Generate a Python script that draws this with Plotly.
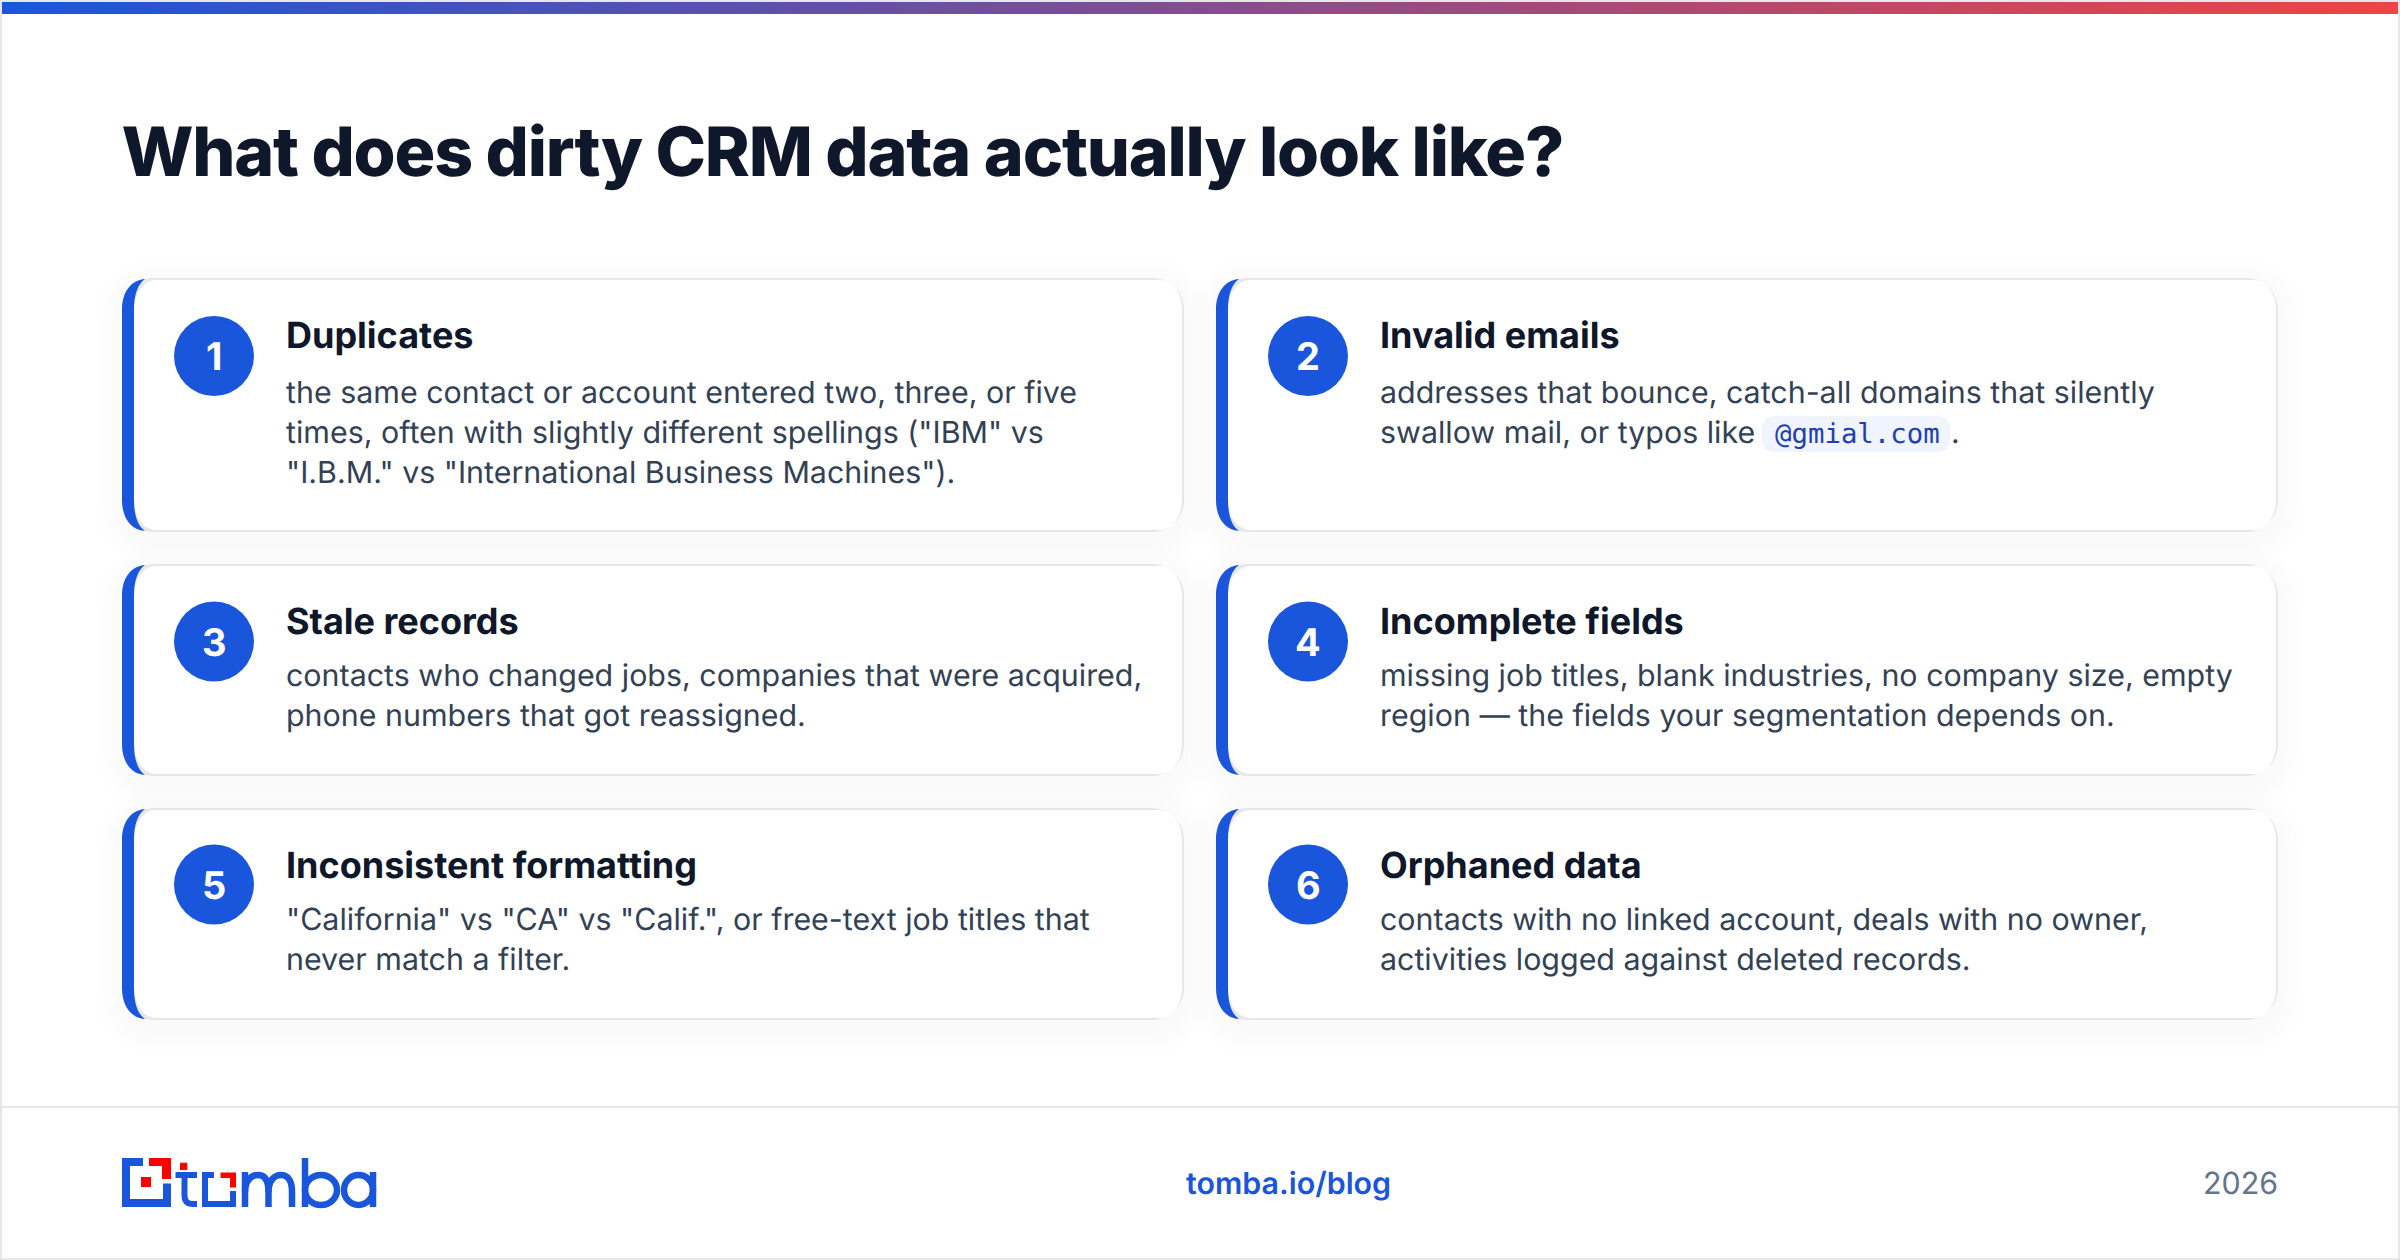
## import packages
import plotly.graph_objects as go


## data
page_title = "What does dirty CRM data actually look like?"
card_numbers = ["1", "2", "3", "4", "5", "6"]
card_titles = [
    "Duplicates",
    "Invalid emails",
    "Stale records",
    "Incomplete fields",
    "Inconsistent formatting",
    "Orphaned data",
]
card_lines = [
    [
        "the same contact or account entered two, three, or five",
        'times, often with slightly different spellings ("IBM" vs',
        '"I.B.M." vs "International Business Machines").',
    ],
    [
        "addresses that bounce, catch-all domains that silently",
        "swallow mail, or typos like",
    ],
    [
        "contacts who changed jobs, companies that were acquired,",
        "phone numbers that got reassigned.",
    ],
    [
        "missing job titles, blank industries, no company size, empty",
        "region \u2014 the fields your segmentation depends on.",
    ],
    [
        '"California" vs "CA" vs "Calif.", or free-text job titles that',
        "never match a filter.",
    ],
    [
        "contacts with no linked account, deals with no owner,",
        "activities logged against deleted records.",
    ],
]
code_text = "@gmial.com"
footer_link = "tomba.io/blog"
footer_year = "2026"


## global variables
WIDTH, HEIGHT = 2400, 1260
BLUE = "#1a56db"
RED = "#ef4444"
LOGO_RED = "#ff0000"
INK = "#0f172a"
BODY = "#334155"
BORDER = "#e5e7eb"
FONT = "Inter"

col_x = [122, 1216]
card_w = 1062
row_y = [(278, 532), (564, 776), (808, 1020)]
# badge / title / first body line offsets from the card top, per row
badge_dy = [78, 77.5, 76.5]
title_dy = [57, 56.5, 57]
body_dy = [114, 111, 110.5]


## functions
def round_rect(x0, y0, x1, y1, rx, ry=None):
    ry = rx if ry is None else ry
    kx, ky = rx * 0.448, ry * 0.448
    return (
        f"M {x0 + rx} {y0} L {x1 - rx} {y0} "
        f"C {x1 - kx} {y0} {x1} {y0 + ky} {x1} {y0 + ry} "
        f"L {x1} {y1 - ry} "
        f"C {x1} {y1 - ky} {x1 - kx} {y1} {x1 - rx} {y1} "
        f"L {x0 + rx} {y1} "
        f"C {x0 + kx} {y1} {x0} {y1 - ky} {x0} {y1 - ry} "
        f"L {x0} {y0 + ry} "
        f"C {x0} {y0 + ky} {x0 + kx} {y0} {x0 + rx} {y0} Z"
    )


def accent_path(x0, y0, y1, r=32, bar=12):
    tip = x0 + 23
    return (
        f"M {tip} {y0 + 1} C {x0 + 9} {y0 + 2} {x0} {y0 + 14} {x0} {y0 + r} "
        f"L {x0} {y1 - r} C {x0} {y1 - 14} {x0 + 9} {y1 - 2} {tip} {y1 - 1} "
        f"C {x0 + bar + 4} {y1 - 6} {x0 + bar} {y1 - 16} {x0 + bar} {y1 - r} "
        f"L {x0 + bar} {y0 + r} C {x0 + bar} {y0 + 16} {x0 + bar + 4} {y0 + 6} {tip} {y0 + 1} Z"
    )


def add_text(fig, x, y, text, size, color=BODY, weight=400, anchor="left", family=FONT):
    fig.add_annotation(
        x=x, y=y, text=text, showarrow=False, xanchor=anchor, yanchor="middle", align=anchor,
        borderpad=0, borderwidth=0,
        font=dict(family=family, size=size, color=color, weight=weight),
    )


def add_fill(fig, path, color):
    fig.add_shape(type="path", path=path, fillcolor=color, line_width=0)


def add_stroke(fig, path, width=6.5):
    fig.add_shape(type="path", path=path, line=dict(color=BLUE, width=width))


## build figure
fig = go.Figure()

# top gradient bar
fig.add_trace(go.Scatter(
    x=[2, 2398, 2398, 2, 2], y=[2, 2, 14, 14, 2],
    mode="none", fill="toself", hoverinfo="skip",
    fillgradient=dict(type="horizontal", colorscale=[[0, BLUE], [1, RED]]),
))

# page frame and footer rule
fig.add_shape(type="rect", x0=1, y0=1, x1=2399, y1=1259, line=dict(color=BORDER, width=2))
fig.add_shape(type="rect", x0=2, y0=1106, x1=2398, y1=1108, fillcolor=BORDER, line_width=0)

# title is centred on its span so the tightened tracking keeps both ends in place
add_text(fig, 842, 151, page_title, 68, INK, 800, anchor="center")

# cards
for i, title in enumerate(card_titles):
    row = i // 2
    x0 = col_x[i % 2]
    y0, y1 = row_y[row]
    x1 = x0 + card_w

    # soft shadow
    for spread in (26, 20, 14, 9, 5):
        add_fill(fig, round_rect(x0 - spread, y0 + 6 - spread, x1 + spread, y1 + 8 + spread, 32 + spread),
                 "rgba(15,23,42,0.005)")

    add_fill(fig, round_rect(x0, y0, x1, y1, 32), BORDER)
    add_fill(fig, round_rect(x0 + 12, y0 + 2, x1 - 2, y1 - 2, 22, 30), "white")
    add_fill(fig, accent_path(x0, y0, y1), BLUE)

    # number badge
    cx, cy = x0 + 92, y0 + badge_dy[row]
    fig.add_shape(type="circle", x0=cx - 40, y0=cy - 40, x1=cx + 40, y1=cy + 40, fillcolor=BLUE, line_width=0)
    add_text(fig, cx, cy, card_numbers[i], 38, "white", 700, anchor="center")

    # title and body lines
    add_text(fig, x0 + 164, y0 + title_dy[row], title, 36, INK, 700)
    for j, line in enumerate(card_lines[i]):
        add_text(fig, x0 + 164, y0 + body_dy[row] + j * 40, line, 30.4, BODY, 400)

# inline code chip in card 2
add_fill(fig, round_rect(1762, 416, 1950, 452, 12), "#eff4ff")
add_text(fig, 1775, 433, code_text, 27.36, "#1e40af", 400, family="DejaVu Sans Mono")
add_text(fig, 1951, 432, ".", 30.4, BODY, 400)

# logo: mark
add_fill(fig, "M 122 1158 L 143 1158 L 143 1166 L 130 1166 L 130 1199 L 163 1199 L 163 1183.5 "
              "L 171 1183.5 L 171 1207 L 122 1207 Z", BLUE)
add_fill(fig, "M 149 1158 L 171 1158 L 171 1179 L 162 1179 L 162 1166 L 149 1166 Z", LOGO_RED)
add_fill(fig, "M 141 1177 L 151 1177 L 151 1187 L 141 1187 Z", LOGO_RED)

# logo: t
add_fill(fig, "M 180 1162.7 L 187.3 1162.7 L 187.3 1170 L 180 1170 Z", LOGO_RED)
add_stroke(fig, "M 175.5 1175 L 197 1175", 6)
add_stroke(fig, "M 184.5 1172 L 184.5 1195 C 184.5 1201 187 1204 193 1204 L 197 1204", 6)

# logo: o
add_fill(fig, "M 202 1172 L 214 1172 L 214 1178 L 208 1178 L 208 1201 L 230 1201 L 230 1191 "
              "L 236 1191 L 236 1207 L 202 1207 Z", BLUE)
add_fill(fig, "M 220.5 1172.5 L 236 1172.5 L 236 1187.5 L 230 1187.5 L 230 1178 L 220.5 1178 Z", LOGO_RED)

# logo: m
add_stroke(fig, "M 245 1207 L 245 1172")
add_stroke(fig, "M 245 1192 C 245 1181 251 1175 258 1175 C 265 1175 268.5 1181 268.5 1192 L 268.5 1207")
add_stroke(fig, "M 268.5 1192 C 268.5 1181 274 1175 281 1175 C 288 1175 292 1181 292 1192 L 292 1207")

# logo: b
add_stroke(fig, "M 305 1158 L 305 1207")
fig.add_shape(type="circle", x0=305, y0=1175, x1=337, y1=1205, line=dict(color=BLUE, width=6.5))

# logo: a
fig.add_shape(type="circle", x0=344, y0=1175, x1=373, y1=1205, line=dict(color=BLUE, width=6.5))
add_stroke(fig, "M 373 1172 L 373 1207")

# footer text
add_text(fig, 1288, 1183, footer_link, 30.4, BLUE, 600, anchor="center")
add_text(fig, 2278, 1183, footer_year, 30.4, "#64748b", 400, anchor="right")

fig.update_layout(
    width=WIDTH,
    height=HEIGHT,
    autosize=False,
    margin=dict(l=0, r=0, t=0, b=0, pad=0),
    paper_bgcolor="white",
    plot_bgcolor="white",
    showlegend=False,
    hovermode=False,
    xaxis=dict(range=[0, WIDTH], visible=False, fixedrange=True),
    yaxis=dict(range=[HEIGHT, 0], visible=False, fixedrange=True),
)

# plotly has no tracking setting, and the page needs its default margin removed
post_js = """
document.body.style.margin = '0';
document.body.style.overflow = 'hidden';
document.querySelectorAll('.annotation-text').forEach(function (t) {
    t.style.textRendering = 'geometricPrecision';
    if (t.textContent.startsWith('What does')) { t.style.letterSpacing = '-1.2px'; }
});
"""

fig.write_html("out.html", config={"displayModeBar": False}, post_script=post_js)
